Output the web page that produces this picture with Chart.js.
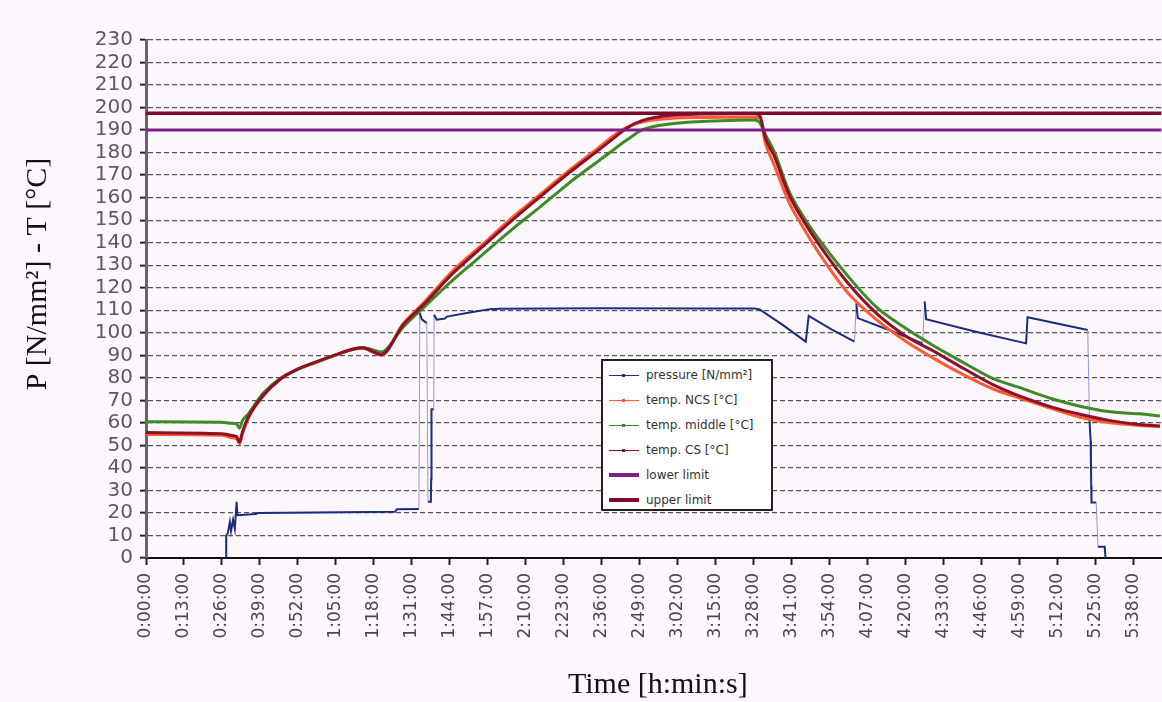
<!DOCTYPE html>
<html>
<head>
<meta charset="utf-8">
<script src="https://cdn.jsdelivr.net/npm/chart.js@4.4.1/dist/chart.umd.min.js"></script>
<style>
  html, body { margin: 0; padding: 0; background: #fef8fe; }
  #wrap { position: relative; width: 1162px; height: 702px; overflow: hidden; }
  #legend {
    position: absolute; left: 601px; top: 359px; width: 172px; height: 152px;
    background: #ffffff; border: 2px solid #222; box-sizing: border-box;
    font-family: "DejaVu Sans", sans-serif; font-size: 12px; color: #333;
  }
  .row { position: absolute; left: 6px; height: 14px; display: flex; align-items: center; white-space: nowrap; }
  .sample { position: relative; width: 30px; margin-right: 7px; }
  .mark { position: absolute; left: 13px; width: 3px; height: 3px; }
</style>
</head>
<body>
<div id="wrap">
  <canvas id="chart"></canvas>
  <div id="legend"></div>
</div>
<script>
/*=========================================================
DATA
=========================================================*/

// time in minutes from start
const timeMin = [0, 26, 29, 31, 32, 33, 35, 40, 46, 52, 58, 65, 70, 74, 78, 80.5, 88, 95, 105, 115, 125, 135, 145, 155, 160, 165, 170, 180, 190, 200, 208, 210, 212, 215, 220, 225, 230, 240, 250, 260, 270, 280, 290, 300, 310, 320, 330, 340, 347];

const tempNCS = [54.8, 54.5, 53.5, 53, 50.8, 55, 62, 71.8, 79.3, 83.8, 86.8, 90.1, 92.3, 93.1, 91.2, 90, 104, 113.3, 127.5, 139, 150.8, 161.5, 172.3, 182.3, 187.5, 191.5, 193.7, 195.3, 195.6, 195.7, 195.7, 195.5, 184, 174.5, 158, 146.5, 136, 118, 105.8, 96.2, 88.3, 81.2, 75, 70.6, 66.3, 62.4, 60, 58.8, 58.3];

const tempMiddle = [60.5, 60.3, 59.8, 59.5, 57.6, 61, 64, 73, 79.8, 83.7, 86.8, 90.2, 92.3, 93.5, 92.3, 91.5, 102.5, 111.2, 123.4, 134.5, 145.6, 156, 166.7, 176.4, 181.3, 186, 190.2, 192.8, 193.8, 194.3, 194.5, 193.5, 188, 180.5, 163, 151.5, 142, 125.5, 111.4, 102, 93.9, 86.6, 79.6, 75.2, 70.7, 67.3, 64.9, 64, 63.1];

const tempCS = [55.7, 55.2, 54.5, 53.9, 51.5, 56, 62.5, 72, 79.5, 84, 87, 90.3, 92.5, 93.3, 91.5, 90.3, 103.5, 112.5, 126.3, 138, 149.6, 160.5, 171.2, 181.2, 186.3, 191.3, 194.3, 196.6, 197.1, 197.2, 197.2, 196.5, 186.5, 178.5, 161.5, 149.8, 139.8, 122.4, 108.6, 98.6, 91.5, 84, 76.9, 71.4, 67, 63.7, 61, 59.3, 58.6];

const pressTime = [27.4, 27.45, 28, 28.7, 29.1, 29.8, 30.4, 31, 31.3, 37.6, 38.3, 85.2, 85.9, 93.4, 93.7, 94.4, 96.1, 96.5, 97.5, 97.6, 97.65, 97.7, 97.75, 98.5, 98.6, 99.5, 102.3, 103, 110.8, 117.7, 121.1, 155.3, 189.5, 208.3, 210, 217.9, 225.8, 226.8, 234.6, 242.5, 243.1, 243.6, 254.7, 265.8, 266.5, 267, 284, 301.2, 301.7, 322.3, 322.9, 323.3, 323.4, 323.5, 323.6, 325.2, 325.8, 328.1, 328.4];

const pressure = [0, 10, 11, 16, 12, 17, 13, 25, 19, 19.5, 20, 20.5, 21.6, 21.8, 108.7, 106, 104.3, 25, 25, 35, 45, 55, 66, 66, 108, 105.8, 106.3, 107.2, 109, 110.5, 110.7, 110.9, 110.8, 110.8, 110.4, 103.5, 96.1, 107.5, 101.5, 96.1, 113.1, 106.5, 101, 95.3, 113.9, 106, 100.5, 95.3, 106.9, 101.2, 61.3, 52, 42, 32, 24.6, 24.6, 5, 5, 0];

const lowerLimit = 190;
const upperLimit = 197.5;

const xTickLabels = ["0:00:00", "0:13:00", "0:26:00", "0:39:00", "0:52:00", "1:05:00", "1:18:00", "1:31:00", "1:44:00", "1:57:00", "2:10:00", "2:23:00", "2:36:00", "2:49:00", "3:02:00", "3:15:00", "3:28:00", "3:41:00", "3:54:00", "4:07:00", "4:20:00", "4:33:00", "4:46:00", "4:59:00", "5:12:00", "5:25:00", "5:38:00"];

const seriesLabels = ["pressure [N/mm²]", "temp. NCS [°C]", "temp. middle [°C]", "temp. CS [°C]", "lower limit", "upper limit"];

const xMax = 347.6;

/*=========================================================
HELPERS
=========================================================*/

function toMinutes(label) {
  const p = label.split(":");
  return Number(p[0]) * 60 + Number(p[1]) + Number(p[2]) / 60;
}

function pairs(xs, ys) {
  return xs.map((x, i) => ({ x: x, y: ys[i] }));
}

const colPress = "#1b2a82";
const colPressLight = "#8e98d0";
const colNCS = "#ff5a32";
const colMiddle = "#3d8a26";
const colCS = "#8c1028";
const colLower = "#7e1e88";
const colUpper = "#7d0c2c";

/*=========================================================
TITLES PLUGIN
=========================================================*/

const axisTitles = {
  id: "axisTitles",
  afterDraw(chart) {
    const ctx = chart.ctx;
    const area = chart.chartArea;
    ctx.save();
    ctx.fillStyle = "#111";
    ctx.font = "30px 'Liberation Serif', serif";
    ctx.textAlign = "center";
    ctx.textBaseline = "middle";
    ctx.fillText("Time [h:min:s]", (area.left + area.right) / 2 + 4, 685);
    ctx.translate(38, 274);
    ctx.rotate(-Math.PI / 2);
    ctx.fillText("P [N/mm²] - T [°C]", 0, 0);
    ctx.restore();
  },
};

/*=========================================================
CHART
=========================================================*/

const tempLine = (label, data, color, order) => ({
  label: label,
  data: data,
  borderColor: color,
  backgroundColor: color,
  borderWidth: 3,
  pointRadius: 0,
  cubicInterpolationMode: "monotone",
  order: order,
});

const chart = new Chart(document.getElementById("chart"), {
  type: "line",
  data: {
    datasets: [
      {
        label: seriesLabels[0],
        data: pairs(pressTime, pressure),
        borderColor: colPress,
        borderWidth: 2,
        pointRadius: 0,
        tension: 0,
        order: 5,
        segment: {
          borderColor: (c) => (Math.abs(c.p1.parsed.y - c.p0.parsed.y) > 15 ? colPressLight : colPress),
          borderWidth: (c) => (Math.abs(c.p1.parsed.y - c.p0.parsed.y) > 15 ? 1 : 2),
        },
      },
      tempLine(seriesLabels[1], pairs(timeMin, tempNCS), colNCS, 4),
      tempLine(seriesLabels[2], pairs(timeMin, tempMiddle), colMiddle, 3),
      tempLine(seriesLabels[3], pairs(timeMin, tempCS), colCS, 2),
      {
        label: seriesLabels[4],
        data: [{ x: 0, y: lowerLimit }, { x: xMax, y: lowerLimit }],
        borderColor: colLower,
        borderWidth: 3,
        pointRadius: 0,
        order: 1,
      },
      {
        label: seriesLabels[5],
        data: [{ x: 0, y: upperLimit }, { x: xMax, y: upperLimit }],
        borderColor: colUpper,
        borderWidth: 3.5,
        pointRadius: 0,
        order: 0,
      },
    ],
  },
  options: {
    responsive: true,
    maintainAspectRatio: false,
    animation: false,
    layout: { padding: { top: 40, left: 0, right: 0, bottom: 0 } },
    plugins: {
      legend: { display: false },
      tooltip: { enabled: false },
    },
    scales: {
      x: {
        type: "linear",
        min: 0,
        max: xMax,
        afterBuildTicks: (scale) => {
          scale.ticks = xTickLabels.map((l) => ({ value: toMinutes(l) }));
        },
        afterFit: (scale) => {
          scale.height = 144;
        },
        ticks: {
          autoSkip: false,
          minRotation: 90,
          maxRotation: 90,
          padding: 8,
          color: "#4a4a4a",
          font: { family: "'DejaVu Sans', sans-serif", size: 17 },
          callback: (value, index) => xTickLabels[index],
        },
        grid: {
          drawOnChartArea: false,
          drawTicks: true,
          tickLength: 7,
          tickColor: "#222",
          tickWidth: 2,
        },
        border: { display: true, color: "#111", width: 2 },
      },
      y: {
        min: 0,
        max: 230,
        afterFit: (scale) => {
          scale.width = 146;
        },
        ticks: {
          stepSize: 10,
          autoSkip: false,
          padding: 7,
          color: "#5a5a5a",
          font: { family: "'DejaVu Sans', sans-serif", size: 20 },
        },
        grid: {
          color: "#555",
          lineWidth: 1.3,
          tickLength: 6,
          tickColor: "#222",
          tickWidth: 2,
        },
        border: { display: true, color: "#666", width: 3, dash: [5, 3] },
      },
    },
  },
  plugins: [axisTitles],
});

/*=========================================================
LEGEND
=========================================================*/

const legendStyles = [
  { color: colPress, width: 1, mark: true },
  { color: colNCS, width: 1, mark: true },
  { color: colMiddle, width: 1, mark: true },
  { color: colCS, width: 1, mark: true },
  { color: colLower, width: 4, mark: false },
  { color: colUpper, width: 4, mark: false },
];

const legend = document.getElementById("legend");

seriesLabels.forEach((label, i) => {
  const st = legendStyles[i];
  const row = document.createElement("div");
  row.className = "row";
  row.style.top = 7 + i * 25 + "px";

  const sample = document.createElement("div");
  sample.className = "sample";
  sample.style.height = st.width + "px";
  sample.style.background = st.color;

  if (st.mark) {
    const m = document.createElement("div");
    m.className = "mark";
    m.style.top = "-1px";
    m.style.background = st.color;
    sample.appendChild(m);
  }

  const text = document.createElement("span");
  text.textContent = label;

  row.appendChild(sample);
  row.appendChild(text);
  legend.appendChild(row);
});
</script>
</body>
</html>
